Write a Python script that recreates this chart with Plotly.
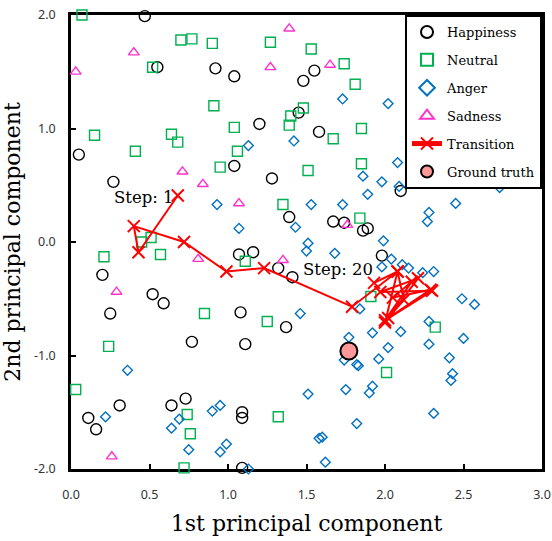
import plotly.graph_objects as go

# Emotion samples projected on the first two principal components
happy_x = [0.47, 0.55, 0.92, 1.04, 0.05, 0.27, 1.04, 1.20, 1.45, 1.48, 1.55, 1.58, 1.28, 1.39,
           1.67, 1.74, 1.86, 1.89, 2.10, 1.98, 0.20, 0.52, 0.59, 0.25, 1.07, 1.16, 1.32, 1.41,
           1.08, 0.77, 1.11, 1.37, 0.31, 0.11, 0.16, 0.64, 0.73, 1.09, 1.09, 1.09]
happy_y = [1.99, 1.54, 1.53, 1.46, 0.77, 0.53, 0.67, 1.04, 1.14, 1.42, 1.51, 0.97, 0.56, 0.22,
           0.18, 0.17, 0.10, 0.12, 0.45, -0.12, -0.29, -0.46, -0.54, -0.63, -0.11, -0.09, -0.23, -0.31,
           -0.62, -0.88, -0.90, -0.75, -1.44, -1.55, -1.65, -1.44, -1.38, -1.50, -1.55, -1.99]

neutral_x = [0.07, 0.70, 0.77, 0.90, 0.52, 0.91, 1.04, 0.15, 0.64, 0.68, 0.41, 1.06, 0.95, 1.27,
             1.53, 1.74, 1.81, 1.48, 1.40, 1.39, 1.85, 1.67, 1.85, 1.51, 1.35, 1.84, 0.45, 0.51,
             0.57, 0.21, 0.85, 1.11, 1.91, 1.25, 2.32, 0.24, 0.03, 0.74, 0.76, 0.72, 1.32, 2.01]
neutral_y = [2.00, 1.78, 1.79, 1.75, 1.54, 1.20, 1.01, 0.94, 0.95, 0.88, 0.80, 0.80, 0.66, 1.76,
             1.70, 1.57, 1.39, 1.18, 1.11, 1.03, 1.00, 0.91, 0.69, 0.63, 0.33, 0.21, 0.00, 0.04,
             -0.11, -0.13, -0.63, -0.17, -0.48, -0.70, -0.75, -0.92, -1.30, -1.52, -1.69, -1.99, -1.54, -1.15]

anger_x = [1.73, 2.02, 1.13, 1.42, 2.18, 2.08, 2.19, 0.93, 1.07, 1.86, 1.98, 1.89, 1.53, 1.73,
           1.43, 1.51, 1.50, 1.68, 1.99, 1.98, 1.46, 1.84, 2.09, 2.45, 2.28, 2.27, 2.73, 2.04,
           2.11, 2.15, 2.24, 2.31, 2.49, 2.57, 1.77, 1.92, 2.10, 2.50, 2.28, 0.36, 0.22, 0.69,
           0.64, 0.90, 0.95, 0.75, 0.95, 0.99, 0.88, 2.02, 1.74, 1.82, 1.83, 1.96, 1.51, 1.75,
           1.92, 1.90, 1.82, 1.58, 1.60, 1.62, 1.13, 2.28, 2.41, 2.43, 2.42, 2.31]
anger_y = [1.26, 1.22, 0.85, 0.89, 0.80, 0.70, 0.58, 0.33, 0.12, 0.58, 0.53, 0.42, 0.33, 0.33,
           0.13, -0.01, -0.08, -0.10, 0.01, -0.22, -0.63, -0.59, 0.49, 0.34, 0.26, 0.18, 0.48, -0.15,
           -0.20, -0.23, -0.27, -0.26, -0.50, -0.55, -0.84, -0.80, -0.79, -0.85, -0.70, -1.13, -1.54, -1.56,
           -1.64, -1.49, -1.44, -1.83, -1.85, -1.78, -2.01, -0.93, -1.04, -1.08, -1.09, -1.03, -1.34, -1.30,
           -1.27, -1.33, -1.60, -1.73, -1.72, -1.94, -2.00, -0.90, -1.02, -1.16, -1.22, -1.51]

sad_x = [0.40, 0.03, 1.39, 1.27, 1.65, 0.71, 0.84, 1.07, 0.81, 0.29, 1.35, 1.76, 0.26]
sad_y = [1.67, 1.50, 1.88, 1.54, 1.56, 0.62, 0.51, 0.34, -0.15, -0.44, -0.16, 0.15, -1.89]

# Estimated trajectory, step 1 .. step 20
trans_x = [0.68, 0.43, 0.40, 0.72, 0.99, 1.23, 1.79, 2.08, 2.00, 2.21, 1.97, 2.30, 2.00, 2.17,
           2.05, 2.29, 2.02, 2.12, 2.08, 1.93]
trans_y = [0.41, -0.09, 0.14, 0.00, -0.26, -0.23, -0.57, -0.26, -0.71, -0.32, -0.44, -0.43, -0.69, -0.35,
           -0.49, -0.42, -0.67, -0.51, -0.26, -0.36]

truth_x = [1.77]
truth_y = [-0.96]

x_ticks = [0.0, 0.5, 1.0, 1.5, 2.0, 2.5, 3.0]
x_tick_text = ["0.0", "0.5", "1.0", "1.5", "2.0", "2.5", "3.0"]
y_ticks = [-2.0, -1.0, 0.0, 1.0, 2.0]
y_tick_text = ["-2.0", "-1.0", "0.0", "1.0", "2.0"]

SERIF = "DejaVu Serif"
SANS = "Noto Sans"

fig = go.Figure()


def open_marker(name, xs, ys, symbol, color, size, group):
    fig.add_trace(go.Scatter(
        x=xs, y=ys, mode="markers", name=name, legendgroup=group,
        cliponaxis=False,
        marker=dict(symbol=symbol, size=size, color=color, line=dict(color=color, width=1.4)),
    ))


open_marker("Happiness", happy_x, happy_y, "circle-open", "#000000", 11, "g1")
open_marker("Neutral", neutral_x, neutral_y, "square-open", "#00B050", 10, "g2")
open_marker("Anger", anger_x, anger_y, "diamond-open", "#0070C0", 7.5, "g3")
open_marker("Sadness", sad_x, sad_y, "triangle-up-open", "#FF33CC", 9.5, "g4")

fig.add_trace(go.Scatter(
    x=trans_x, y=trans_y, mode="lines+markers", name="Transition", legendgroup="g5",
    cliponaxis=False,
    line=dict(color="#FF0000", width=2),
    marker=dict(symbol="x-thin", size=12, color="#FF0000", line=dict(color="#FF0000", width=2)),
))

fig.add_trace(go.Scatter(
    x=truth_x, y=truth_y, mode="markers", name="Ground truth", legendgroup="g6",
    cliponaxis=False,
    marker=dict(symbol="circle", size=17, color="#FF9999", line=dict(color="#000000", width=2)),
))

fig.add_annotation(x=trans_x[0], y=trans_y[0], text="Step: 1", showarrow=False,
                   xanchor="right", yanchor="middle", xshift=-2, yshift=-2,
                   font=dict(family=SERIF, size=16.5, color="#000000"))
fig.add_annotation(x=trans_x[-1], y=trans_y[-1], text="Step: 20", showarrow=False,
                   xanchor="right", yanchor="middle", xshift=1, yshift=13,
                   font=dict(family=SERIF, size=16.5, color="#000000"))

axis_common = dict(
    showline=True, mirror=True, linecolor="#000000", linewidth=2.5,
    showgrid=False, zeroline=False, ticks="inside", ticklen=5, tickwidth=2,
    tickcolor="#000000", tickfont=dict(family=SANS, size=12.5, color="#333333"),
    automargin=False, layer="below traces", ticklabeloverflow="allow",
)

fig.update_xaxes(range=[0, 3], tickvals=x_ticks, ticktext=x_tick_text,
                 ticklabelstandoff=12,
                 title=dict(text="1st principal component", standoff=14,
                            font=dict(family=SERIF, size=22, color="#000000")),
                 **axis_common)
fig.update_yaxes(range=[-2, 2], tickvals=y_ticks, ticktext=y_tick_text,
                 ticklabelstandoff=10,
                 title=dict(text="2nd principal component", standoff=8,
                            font=dict(family=SERIF, size=22, color="#000000")),
                 **axis_common)

fig.update_layout(
    width=552, height=541,
    margin=dict(l=71, r=10, t=15, b=72),
    paper_bgcolor="#FFFFFF", plot_bgcolor="#FFFFFF",
    legend=dict(
        x=1, y=1, xanchor="right", yanchor="top",
        bgcolor="#FFFFFF", bordercolor="#000000", borderwidth=2,
        font=dict(family=SERIF, size=13, color="#000000"),
        itemsizing="constant", tracegroupgap=8,
    ),
)

fig.write_html("out.html")
